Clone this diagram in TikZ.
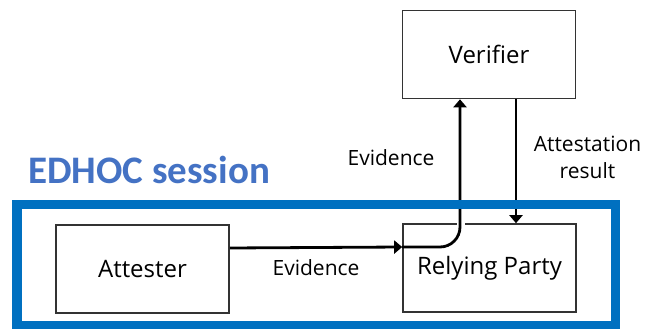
\documentclass[tikz,border=0pt]{standalone}
\usepackage{fontspec}
\setmainfont{Open Sans}
\newfontfamily\titlefont{Carlito}
\usetikzlibrary{arrows.meta}
\definecolor{sessionblue}{HTML}{0070C0}
\definecolor{titleblue}{HTML}{4472C4}
\begin{document}
\begin{tikzpicture}[x=1pt,y=-1pt,
  entity/.style={draw=black!80, line width=1.6pt, fill=white,
    minimum width=173pt, minimum height=88pt, inner sep=0pt,
    font=\fontsize{24}{28}\selectfont},
  flow/.style={draw=black, line width=2.8pt,
    -{Triangle[length=8pt,width=13pt]}},
  lbl/.style={font=\fontsize{21}{27}\selectfont, align=center, inner sep=0pt}]
  \useasboundingbox (0,0) rectangle (646,329);

  % participants
  \node[entity] (ver) at (489,54.5) {Verifier};
  \node[entity] (att) at (142.5,269) {Attester};
  \node[entity] (rp)  at (489.5,268) {Relying Party};

  % evidence from attester to relying party
  \draw[flow] ([yshift=21pt]att.east) -- ([yshift=21pt]rp.west);
  % evidence forwarded to the verifier (white gap where it crosses the box edge)
  \draw[white, line width=8pt] ([xshift=-29pt,yshift=-6pt]rp.north) -- ([xshift=-29pt,yshift=4pt]rp.north);
  \draw[flow, rounded corners=20pt] ([yshift=21pt]rp.west) -| ([xshift=-29pt]ver.south);
  % attestation result back to the relying party
  \draw[flow] ([xshift=27pt]ver.south) -- ([xshift=26.5pt]rp.north);

  % labels
  \node[lbl] (ev1) at (316,268) {Evidence};
  \node[lbl] (ev2) at (391,158) {Evidence};
  \node[lbl] (ar)  at (587.5,157) {Attestation\\result};

  % session boundary
  \draw[sessionblue, line width=9.5pt] (17,204.5) rectangle (615.5,325.5);
  \node[anchor=base west, inner sep=0pt, text=titleblue,
    font=\titlefont\bfseries\fontsize{39}{42}\selectfont] (title) at (28,183) {EDHOC session};
\end{tikzpicture}
\end{document}
